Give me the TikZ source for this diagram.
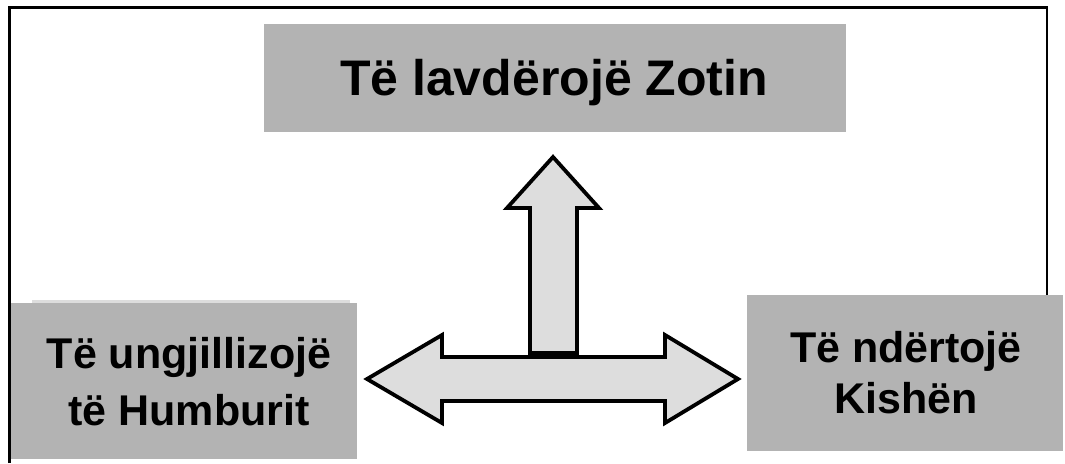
\documentclass[tikz,border=0pt]{standalone}
\usepackage{fontspec}
\setmainfont{Liberation Sans}
\begin{document}
\definecolor{boxgray}{HTML}{B3B3B3}
\definecolor{arrowfill}{HTML}{DDDDDD}
\definecolor{stripgray}{HTML}{DDDDDD}
\begin{tikzpicture}[x=1pt,y=-1pt,
  graybox/.style={fill=boxgray, draw=none, inner sep=0pt, outer sep=0pt},
  bigtext/.style={anchor=base, inner sep=0pt, font=\bfseries\fontsize{50}{60}\selectfont},
  midtext/.style={anchor=base, inner sep=0pt, font=\bfseries\fontsize{43}{52}\selectfont},
  arrowshape/.style={fill=arrowfill, draw=black, line width=3.8pt, line join=miter},
  frameline/.style={draw=black, line width=2.4pt}
]
\useasboundingbox (0,0) rectangle (1065,463);
% frame
\coordinate (fbl) at (9.5,463);
\coordinate (ftl) at (9.5,7.5);
\coordinate (ftr) at (1047,7.5);
\coordinate (fbr) at (1047,295);
\draw[frameline] (fbl) -- (ftl) -- (ftr) -- (fbr);
% boxes
\path[fill=stripgray] (32,300) rectangle (350,304);
\node[graybox, minimum width=582pt, minimum height=108pt] (topbox) at (555,78) {};
\node[graybox, minimum width=346pt, minimum height=156pt] (leftbox) at (184,381) {};
\node[graybox, minimum width=316pt, minimum height=156pt] (rightbox) at (905,373) {};
% texts
\node[bigtext] (toptext) at (554,95) {Të lavdërojë Zotin};
\node[midtext] (lefttext1) at (189,368) {Të ungjillizojë};
\node[midtext] (lefttext2) at (189,425) {të Humburit};
\node[midtext] (righttext1) at (906,362) {Të ndërtojë};
\node[midtext] (righttext2) at (906,413) {Kishën};
% horizontal double arrow
\draw[arrowshape] (367,379) -- (442,335) -- (442,357) -- (665,357) -- (665,335)
  -- (738,379) -- (665,423) -- (665,401) -- (442,401) -- (442,423) -- cycle;
% upward arrow
\draw[arrowshape] (530,353) -- (530,208) -- (507,208) -- (553,157) -- (599,208)
  -- (577,208) -- (577,353) -- cycle;
\end{tikzpicture}
\end{document}
